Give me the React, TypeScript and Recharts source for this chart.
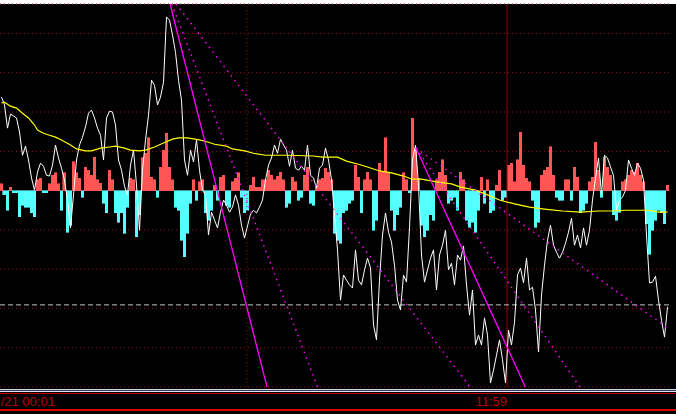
import React from 'react';
import { ComposedChart, Bar, Line, XAxis, YAxis, CartesianGrid, ReferenceLine, Cell } from 'recharts';

// last price, one value per sample
const price = [
  23.8, 21.8, 15.9, 19.5, 19.0, 18.5, 14.9, 9.0, 11.3, 7.8,
  3.2, 0.1, 4.7, 7.0, 6.2, 3.9, 3.7, 6.5, 11.6, 8.3,
  5.7, 2.7, -2.4, -9.5, -1.1, 7.8, 11.6, 13.6, 16.2, 19.7,
  20.5, 18.5, 15.9, 14.1, 7.8, 18.5, 20.2, 20.0, 16.7, 7.8,
  5.2, 1.1, -1.1, 6.5, 10.3, 1.4, -10.1, 5.2, 12.9, 19.2,
  28.1, 26.8, 21.8, 23.8, 27.6, 44.2, 43.4, 39.6, 35.2, 28.1,
  23.0, 7.8, 3.9, 10.3, 7.3, 12.9, 5.2, 0.1, -1.1, -11.3,
  -5.5, -7.5, -9.5, -5.5, -2.4, -3.7, -5.5, -4.2, -1.1, -3.7,
  -8.8, -12.1, -9.0, -6.0, -5.0, -5.7, -4.2, -2.4, 2.7, 6.5,
  8.3, 11.6, 9.5, 13.1, 11.6, 10.3, 6.2, 10.3, 5.7, 5.2,
  6.2, 5.2, 11.6, 3.9, 3.2, 0.6, 5.7, 6.5, 10.8, 7.8,
  2.7, -6.2, -15.1, -27.9, -21.5, -22.8, -24.0, -24.8, -15.1, -22.8,
  -24.0, -20.2, -17.2, -19.7, -34.2, -38.0, -22.8, -11.3, -5.7, -10.6,
  -13.1, -19.0, -27.9, -30.4, -21.5, -23.3, -9.5, 7.8, 11.6, 1.4,
  -16.4, -23.3, -20.2, -17.2, -15.1, -25.3, -16.4, -13.9, -10.1, -20.2,
  -18.5, -24.0, -16.4, -17.7, -14.1, -24.0, -31.7, -25.3, -39.3, -36.8,
  -39.3, -32.4, -36.8, -49.0, -45.7, -41.9, -38.0, -43.1, -49.0, -35.5,
  -39.3, -33.5, -21.5, -19.7, -23.5, -17.2, -25.3, -24.6, -30.4, -41.1,
  -26.6, -19.0, -12.6, -8.8, -13.9, -15.7, -17.2, -15.7, -13.4, -10.6,
  -7.0, -13.9, -11.3, -14.6, -9.5, -13.9, -10.1, -2.4, 3.2, 8.3,
  -1.1, 9.0, 8.3, 6.0, 3.9, -5.0, -2.4, -1.7, 0.1, 7.8,
  5.7, 3.9, 7.0, 5.7, 2.7, -11.3, -23.5, -23.3, -21.8, -27.9,
  -33.0, -37.3, -29.6,
];

// volume difference histogram
const hist = [
  1.7, -1.1, -5.0, 0.9, -0.6, -0.6, -6.7, -3.7, -4.2, -4.2,
  -5.7, -6.7, 2.7, 3.2, -0.6, -0.6, 1.7, 3.9, 4.5, 1.7,
  -5.0, 4.5, -10.6, -8.8, 7.3, 4.5, 3.2, -1.7, 6.0, 5.2,
  3.9, 8.5, 2.7, 1.9, -3.2, -5.7, 5.2, 2.7, -5.7, -8.0,
  -5.7, -10.8, -4.2, 3.2, 2.7, -11.8, -6.2, 8.3, 9.5, 13.4,
  3.4, 2.7, -1.7, 6.0, 10.3, 14.6, 6.0, 2.7, -4.2, -5.0,
  -12.6, -16.9, -10.8, -3.2, 2.7, -2.4, 2.2, 2.7, -5.7, -7.5,
  -5.0, 1.4, -2.4, 3.4, 3.9, -3.7, -4.2, 2.2, 3.2, 4.5,
  -1.7, -5.7, -5.0, 1.4, 3.4, 0.9, 0.9, 2.7, 2.7, 5.2,
  3.9, 2.7, 3.7, 4.7, 2.7, -4.2, -3.2, 3.4, 2.2, -2.4,
  -1.7, 3.9, 6.0, -3.2, -3.7, 1.4, 2.7, 3.2, 5.7, 4.7,
  2.7, -10.8, -12.6, -13.4, -5.7, -5.0, -3.2, -2.4, 6.5, 3.4,
  -5.7, 2.7, 4.7, 2.7, -10.1, -7.5, 7.0, 4.7, 13.4, 4.5,
  -5.0, -10.1, -6.2, -4.2, 4.5, 2.7, -0.6, 18.4, 10.3, 3.2,
  -8.8, -11.8, -10.1, -6.2, -7.5, 2.7, 4.7, 7.8, 3.9, -3.2,
  -2.4, -1.7, -5.0, 4.7, 2.7, -7.5, -9.3, -8.0, -10.6, -5.0,
  3.4, -3.2, 2.7, -5.7, -5.0, 1.4, 5.2, -2.4, -1.7, 6.5,
  7.0, 2.2, 7.8, 14.9, 6.5, 3.2, 2.2, -2.4, -9.3, -8.0,
  3.9, 5.2, 6.0, 11.1, 3.9, -1.7, -2.4, -2.4, 2.7, 2.7,
  -2.4, 6.0, 3.4, -5.7, -5.0, -3.2, 2.2, 3.4, 12.3, 5.2,
  -1.7, 8.5, 6.0, 3.9, -6.2, -7.5, -5.5, 2.2, 2.7, 3.9,
  5.2, 4.7, 7.0, 3.9, 2.2, -8.4, -16.2, -10.1, -7.5, -5.0,
  -5.7, -8.4, 1.4,
];

// moving average: sample index and value
const maX = [
  0, 1, 3, 5, 7, 9, 11, 12, 14, 16, 18, 20, 23, 25, 28, 30, 33, 36, 38, 41,
  43, 46, 48, 51, 54, 57, 59, 62, 66, 69, 71, 75, 77, 81, 84, 88, 96, 104, 107, 112,
  115, 119, 122, 126, 130, 134, 137, 140, 145, 150, 153, 158, 162, 166, 171, 176, 181, 187, 193, 199,
  204, 208, 213, 216, 219, 222,
];
const maV = [
  22.3, 22.5, 21.5, 21.0, 19.7, 18.5, 16.7, 15.4, 14.6, 14.1, 13.6, 12.9, 11.6, 10.6, 10.1, 10.1, 10.8, 11.1, 11.3, 10.8,
  10.3, 10.1, 10.3, 11.1, 12.1, 13.1, 13.4, 13.4, 12.9, 12.3, 11.8, 11.3, 10.6, 10.1, 9.5, 9.0, 9.0, 8.8, 8.5, 8.5,
  7.5, 6.7, 6.0, 5.0, 4.5, 3.7, 2.9, 2.9, 2.2, 1.7, 0.9, 0.1, -1.1, -2.4, -3.4, -4.2, -4.7, -5.2, -5.5, -5.2,
  -5.2, -5.0, -5.0, -5.0, -5.5, -5.5,
];

// fan lines drawn from the two highs
const fans = [
  { x1: 56.2, y1: 47.5, x2: 88.5, y2: -50, solid: true },
  { x1: 56.8, y1: 47.5, x2: 105.5, y2: -50.3, solid: false },
  { x1: 58.2, y1: 47.5, x2: 156.2, y2: -50, solid: false },
  { x1: 138.2, y1: 10.8, x2: 174.8, y2: -50.3, solid: true },
  { x1: 138.2, y1: 10.8, x2: 192.8, y2: -50, solid: false },
  { x1: 138.2, y1: 10.8, x2: 224.5, y2: -36.3, solid: false },
];

const gridValues = [-50, -40, -30, -20, -10, 0, 10, 20, 30, 40];
const tickIdx = [17.8, 168.5];
const tickText = ['/21 00:01', '11:59'];

const data = price.map((p, i) => {
  const k = maX.indexOf(i);
  return { x: i, price: p, hist: hist[i], ma: k >= 0 ? maV[k] : null };
});

const TimeTick = (props: any) => {
  const { x, y, payload } = props;
  const k = tickIdx.indexOf(payload.value);
  return (
    <text x={x} y={y + 17} textAnchor="end" fill="#b40000" fontSize={13}
      fontFamily="'Liberation Sans', Arial, sans-serif">
      {tickText[k]}
    </text>
  );
};

const line = (top: number, color: string, h = 1) => (
  <div style={{ position: 'absolute', left: 0, top, width: 676, height: h, background: color }} />
);

export default function App() {
  return (
    <div style={{ position: 'relative', width: 676, height: 414, background: '#000', overflow: 'hidden' }}>
      <style>{'body{margin:0}'}</style>
      <div style={{ position: 'absolute', left: 0, top: 0, width: 676, height: 4, background: '#fff' }} />
      <ComposedChart width={676} height={414} data={data} margin={{ top: 4, right: 7, left: 0, bottom: 0 }}
        barCategoryGap={0} barGap={0}>
        <CartesianGrid vertical={false} stroke="#9a1212" strokeDasharray="1 3" />
        <XAxis dataKey="x" type="number" domain={[-0.5, 222.5]} allowDataOverflow height={27}
          ticks={tickIdx} interval={0} tickSize={0} axisLine={false} tickLine={false} tick={<TimeTick />} />
        <YAxis hide type="number" domain={[-50, 47.5]} allowDataOverflow ticks={gridValues} />
        <ReferenceLine x={81.8} stroke="#9a1212" strokeDasharray="1 3" />
        <ReferenceLine x={168.5} stroke="#a00000" />
        <ReferenceLine y={-29.1} stroke="#c8c8c8" strokeDasharray="5 3" />
        <Bar dataKey="hist" barSize={3} isAnimationActive={false}>
          {data.map((d) => {
            const c = d.hist >= 0 ? '#ff5555' : '#55ffff';
            return <Cell key={d.x} fill={c} stroke={c} strokeWidth={0.6} shapeRendering="crispEdges" />;
          })}
        </Bar>
        <Line dataKey="price" stroke="#ffffff" strokeWidth={1} dot={false} activeDot={false} isAnimationActive={false} />
        <Line dataKey="ma" connectNulls stroke="#ffff00" strokeWidth={1.2} dot={false} activeDot={false} isAnimationActive={false} />
        {fans.map((f, k) => (
          <ReferenceLine key={k} ifOverflow="hidden"
            segment={[{ x: f.x1, y: f.y1 }, { x: f.x2, y: f.y2 }]}
            stroke="#ff00ff" strokeWidth={f.solid ? 1.3 : 1.5} strokeDasharray={f.solid ? undefined : '1.5 4.5'} />
        ))}
      </ComposedChart>
      {line(389, '#d8d8d8')}
      {line(390, '#2a3a6a')}
      {line(391, '#e8e8e8')}
      {line(393, '#c00000')}
      {line(409, '#e00000', 2)}
    </div>
  );
}
